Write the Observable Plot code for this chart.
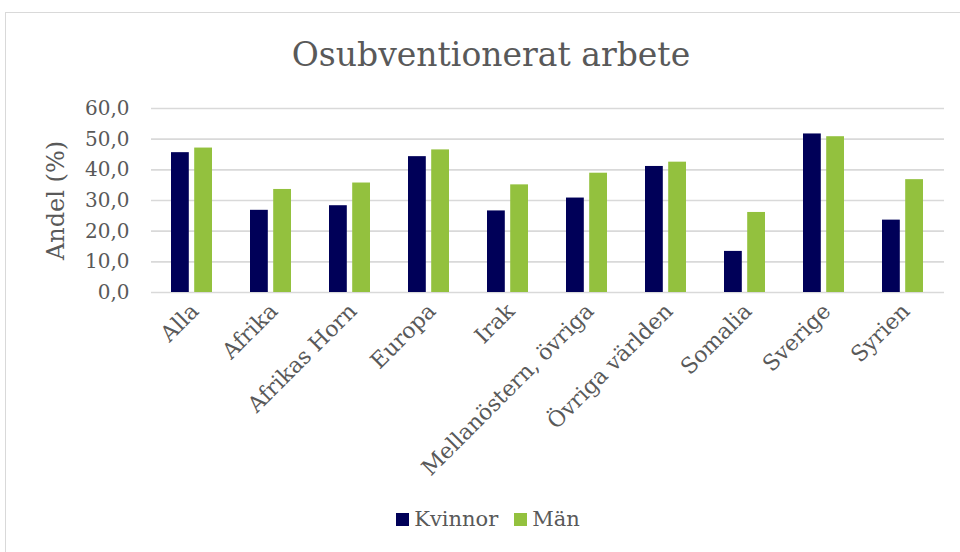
<!DOCTYPE html>
<html>
<head>
<meta charset="utf-8">
<script src="https://cdn.jsdelivr.net/npm/d3@7"></script>
<script src="https://cdn.jsdelivr.net/npm/@observablehq/plot@0.6"></script>
<style>
  html, body { margin: 0; padding: 0; background: #fff; }
  body { width: 960px; height: 552px; position: relative; overflow: hidden; font-family: "DejaVu Serif", serif; color: #595959; }
  #frame { position: absolute; left: 5px; top: 12px; width: 1000px; height: 600px; border: 1px solid #d9d9d9; box-sizing: border-box; }
  #title { position: absolute; left: 0; width: 982px; top: 38px; text-align: center; font-size: 33px; line-height: 1; white-space: nowrap; }
  #chart { position: absolute; left: 0; top: 0; }
  #legend { position: absolute; top: 509px; left: 0; width: 976px; display: flex; justify-content: center; align-items: center; font-size: 21px; line-height: 1; font-family: "DejaVu Serif", serif; }
  .item { display: flex; align-items: center; margin: 0 8px; }
  .sw { width: 13px; height: 13px; margin-right: 5px; }
</style>
</head>
<body>
<div id="frame"></div>
<div id="title">Osubventionerat arbete</div>
<div id="chart"></div>
<div id="legend"></div>
<script>
const categories = ["Alla", "Afrika", "Afrikas Horn", "Europa", "Irak", "Mellanöstern, övriga", "Övriga världen", "Somalia", "Sverige", "Syrien"];
const series = ["Kvinnor", "Män"];
const kvinnor = [45.6, 26.8, 28.3, 44.3, 26.6, 30.8, 41.1, 13.4, 51.7, 23.6];
const man = [47.1, 33.6, 35.7, 46.5, 35.1, 38.9, 42.5, 26.1, 50.8, 36.8];
const yTicks = [0, 10, 20, 30, 40, 50, 60];
const colors = ["#000058", "#93c13e"];

const data = categories.flatMap((c, i) => [
  {category: c, series: series[0], value: kvinnor[i]},
  {category: c, series: series[1], value: man[i]}
]);

const font = "DejaVu Serif, serif";
const barW = 18;

const plot = Plot.plot({
  width: 960,
  height: 552,
  marginLeft: 151,
  marginRight: 16,
  marginTop: 108,
  marginBottom: 260,
  style: {fontFamily: font, color: "#595959", background: "transparent", overflow: "visible"},
  x: {domain: categories, paddingInner: 0.48, paddingOuter: 0.24, label: null},
  y: {domain: [0, 60], label: null},
  color: {domain: series, range: colors},
  marks: [
    Plot.ruleY(yTicks, {stroke: "#d9d9d9", strokeWidth: 1.6}),
    Plot.barY(data.filter(d => d.series === series[0]), {
      x: "category", y: "value", fill: "series",
      insetRight: 41.2 - barW
    }),
    Plot.barY(data.filter(d => d.series === series[1]), {
      x: "category", y: "value", fill: "series",
      insetLeft: 41.2 - barW
    }),
    Plot.axisY({
      ticks: yTicks, tickSize: 0, tickPadding: 22, fontSize: 20,
      tickFormat: d => d.toFixed(1).replace(".", ","), label: null
    }),
    Plot.axisX({
      tickRotate: -45, tickSize: 0, tickPadding: 12, fontSize: 22, dx: 3, dy: 3, label: null
    }),
    Plot.text(["Andel (%)"], {
      frameAnchor: "left", rotate: -90, dx: -95, fontSize: 24, textAnchor: "middle", fill: "#595959"
    })
  ]
});
document.getElementById("chart").appendChild(plot);

const legend = document.getElementById("legend");
series.forEach((s, i) => {
  const item = document.createElement("div");
  item.className = "item";
  const sw = document.createElement("span");
  sw.className = "sw";
  sw.style.background = colors[i];
  const t = document.createElement("span");
  t.textContent = s;
  item.appendChild(sw);
  item.appendChild(t);
  legend.appendChild(item);
});
</script>
</body>
</html>
